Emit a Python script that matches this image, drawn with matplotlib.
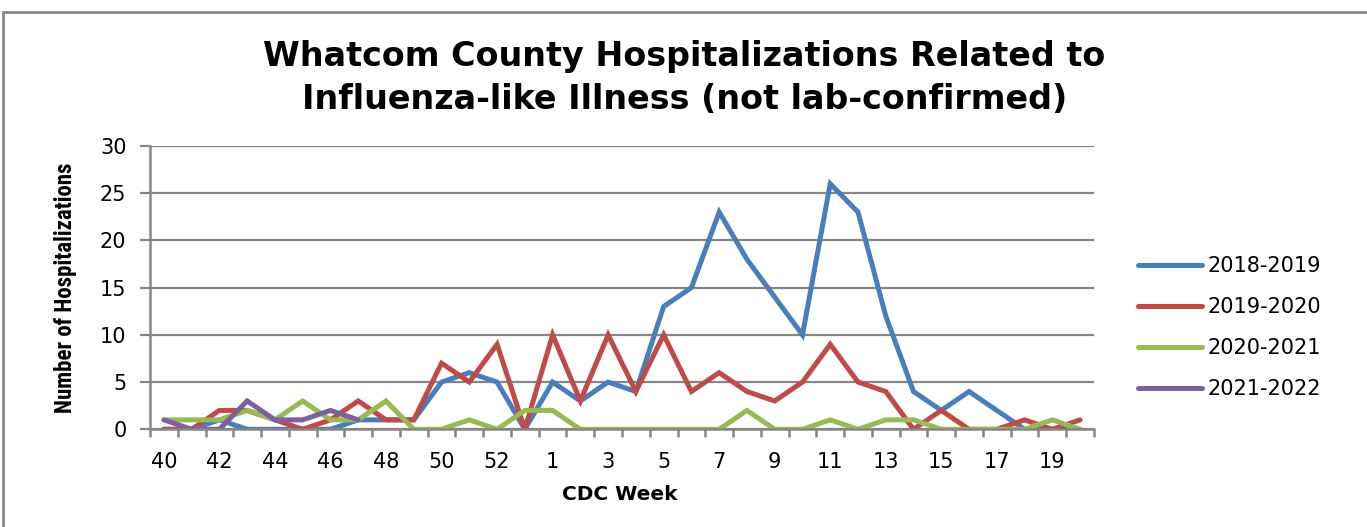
import numpy as np
import matplotlib
matplotlib.use('Agg')
import matplotlib.pyplot as plt
from matplotlib import font_manager
from matplotlib.patches import Rectangle

# CDC weeks on the x axis (season runs week 40 to week 20)
weeks = [40, 41, 42, 43, 44, 45, 46, 47, 48, 49, 50, 51, 52, 53,
         1, 2, 3, 4, 5, 6, 7, 8, 9, 10, 11, 12, 13, 14, 15, 16, 17, 18, 19, 20]

# hospitalizations per season
s2018_2019 = [0, 0, 1, 0, 0, 0, 0, 1, 1, 1, 5, 6, 5, 0,
              5, 3, 5, 4, 13, 15, 23, 18, 14, 10, 26, 23, 12, 4, 2, 4, 2, 0, 0, 0]
s2019_2020 = [0, 0, 2, 2, 1, 0, 1, 3, 1, 1, 7, 5, 9, 0,
              10, 3, 10, 4, 10, 4, 6, 4, 3, 5, 9, 5, 4, 0, 2, 0, 0, 1, 0, 1]
s2020_2021 = [1, 1, 1, 2, 1, 3, 1, 1, 3, 0, 0, 1, 0, 2,
              2, 0, 0, 0, 0, 0, 0, 2, 0, 0, 1, 0, 1, 1, 0, 0, 0, 0, 1, 0]
s2021_2022 = [1, 0, 0, 3, 1, 1, 2, 1]

series = [
    ('2018-2019', s2018_2019, '#4A7EBB'),
    ('2019-2020', s2019_2020, '#BE4B48'),
    ('2020-2021', s2020_2021, '#98B954'),
    ('2021-2022', s2021_2022, '#7D60A0'),
]

# narrow bold face for the rotated axis title, if we have one
names = set(f.name for f in font_manager.fontManager.ttflist)
narrow = 'DejaVu Sans'
for cand in ['Liberation Sans Narrow', 'DejaVu Sans Condensed', 'Roboto Condensed', 'Open Sans Condensed']:
    if cand in names:
        narrow = cand
        break

plt.rcParams['font.family'] = 'DejaVu Sans'

W, H = 1367, 527
fig = plt.figure(figsize=(W / 100, H / 100), dpi=100)
ax = fig.add_axes([150/W, 1 - 429.3/H, 944/W, 283.3/H])

x = np.arange(len(weeks))
for name, vals, col in series:
    ax.plot(x[:len(vals)], vals, color=col, lw=3.6, label=name,
            solid_joinstyle='miter', solid_capstyle='round')

ax.set_xlim(-0.5, len(weeks) - 0.5)
ax.set_ylim(0, 30)
ax.set_yticks(range(0, 31, 5))
ax.yaxis.grid(True, color='#868686', lw=1.6)
ax.set_axisbelow(True)

ax.set_xticks(x)
ax.set_xticklabels([str(w) if i % 2 == 0 else '' for i, w in enumerate(weeks)])
ax.set_xticks(np.arange(-0.5, len(weeks)), minor=True)
ax.tick_params(axis='x', which='major', length=0, pad=16, labelsize=15, colors='black')
ax.tick_params(axis='x', which='minor', length=6, width=1.8, color='#868686', direction='out')
ax.tick_params(axis='y', length=7, width=1.6, color='#868686', pad=10, labelsize=15)

for s in ['top', 'right']:
    ax.spines[s].set_visible(False)
for s in ['left', 'bottom']:
    ax.spines[s].set_color('#868686')
    ax.spines[s].set_linewidth(1.8)

ax.set_xlabel('CDC Week', fontsize=14.5, fontweight='bold')
ax.xaxis.set_label_coords(0.498, -0.198)
ax.set_ylabel('Number of Hospitalizations', fontsize=16.5, fontweight='bold',
              family=[narrow, 'DejaVu Sans'])
ax.yaxis.set_label_coords(-0.0773, 0.5)

fig.text(0.5005, 1 - 66/H, 'Whatcom County Hospitalizations Related to',
         ha='center', va='baseline', fontsize=24, fontweight='bold')
fig.text(0.5005, 1 - 109/H, 'Influenza-like Illness (not lab-confirmed)',
         ha='center', va='baseline', fontsize=24, fontweight='bold')

leg = ax.legend(loc='upper left', bbox_to_anchor=(1138/W, 1 - 256/H), bbox_transform=fig.transFigure,
                frameon=False, fontsize=15, handlelength=3.08, handletextpad=0.25,
                labelspacing=1.01, borderpad=0, borderaxespad=0)

# chart outer border (cropped screenshot: only top and left edges visible)
fig.patches.append(Rectangle((3/W, -0.1), 1.2, 1 - 12/H + 0.1, transform=fig.transFigure,
                             fill=False, edgecolor='#878787', lw=2))

fig.savefig('out.png', dpi=100)
